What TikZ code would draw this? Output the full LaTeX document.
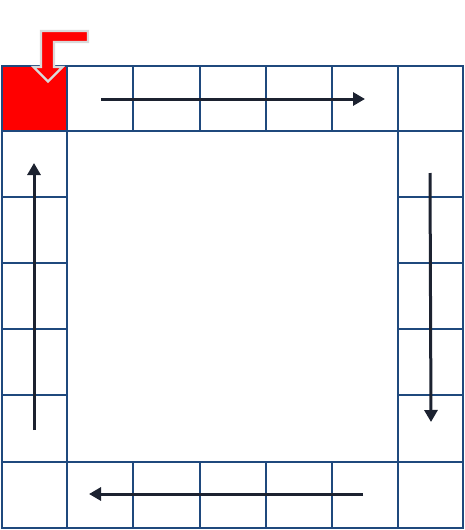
\documentclass[tikz,border=0pt]{standalone}
\usetikzlibrary{arrows.meta}
\definecolor{gridblue}{HTML}{1F497D}
\definecolor{arrowdark}{HTML}{1C2230}
\definecolor{outlinegray}{HTML}{D9D9D9}
\begin{document}
\begin{tikzpicture}[x=1pt,y=-1pt,
  cellline/.style={draw=gridblue,line width=2.3pt},
  flowarrow/.style={draw=arrowdark,line width=3pt,-{Triangle[length=12pt,width=13pt]}},
  startarrow/.style={fill=red,draw=outlinegray,line width=2.2pt,line join=miter}]
\useasboundingbox (0,0) rectangle (465,530);
% red start cell
\fill[red] (2,66) rectangle (67,131);
% grid: top and bottom rows
\foreach \xa/\xb in {2/67,67/133,133/200,200/266,266/332,332/398,398/463}{
  \draw[cellline] (\xa,66) rectangle (\xb,131);
  \draw[cellline] (\xa,462) rectangle (\xb,528);
}
% left and right columns
\foreach \ya/\yb in {131/197,197/263,263/329,329/395,395/462}{
  \draw[cellline] (2,\ya) rectangle (67,\yb);
  \draw[cellline] (398,\ya) rectangle (463,\yb);
}
% arrow end points
\coordinate (topA) at (101,99);
\coordinate (topB) at (365,99);
\coordinate (rightA) at (430,173);
\coordinate (rightB) at (431,422);
\coordinate (botA) at (363,494);
\coordinate (botB) at (89,494);
\coordinate (leftA) at (34,430);
\coordinate (leftB) at (34,163);
\draw[flowarrow] (topA) -- (topB);
\draw[flowarrow] (rightA) -- (rightB);
\draw[flowarrow] (botA) -- (botB);
\draw[flowarrow] (leftA) -- (leftB);
% bent start arrow
\draw[startarrow] (41,31) -- (88,31) -- (88,42) -- (54,42) -- (54,67)
  -- (62.5,67) -- (48,81.5) -- (33.5,67) -- (41,67) -- cycle;
\end{tikzpicture}
\end{document}
